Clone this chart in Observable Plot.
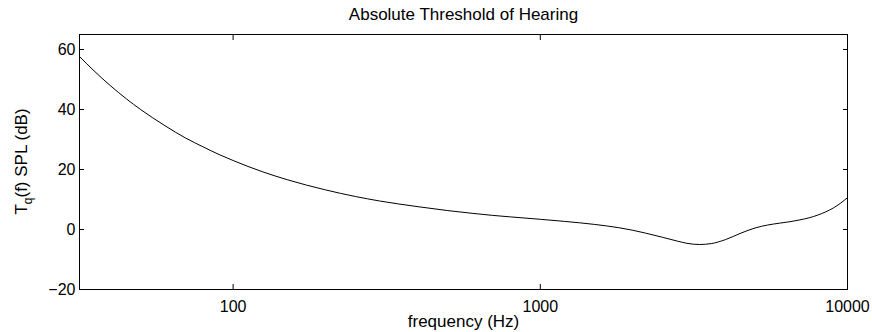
<!DOCTYPE html>
<html><head><meta charset="utf-8">
<script src="https://cdn.jsdelivr.net/npm/d3@7"></script>
<script src="https://cdn.jsdelivr.net/npm/@observablehq/plot@0.6"></script>
<style>
body{margin:0;background:#fff;}
#chart svg{font-family:"Liberation Sans", Arial, Helvetica, sans-serif;}
</style>
</head><body><div id="chart"></div>
<script>
// Values
const freqHz = [31.6, 35, 40, 45, 50, 60, 70, 80, 90, 100, 125, 150, 200, 250, 300, 400, 500, 600, 700, 800, 1000, 1200, 1500, 1800, 2000, 2200, 2500, 2800, 3000, 3300, 3600, 4000, 4500, 5000, 5500, 6000, 6500, 7000, 7500, 8000, 8500, 9000, 9500, 10000];
const thresholdDb = [57.7, 53.2, 47.8, 43.5, 40.0, 34.6, 30.5, 27.5, 25.0, 23.0, 19.2, 16.6, 13.2, 11.0, 9.5, 7.6, 6.3, 5.4, 4.7, 4.2, 3.4, 2.7, 1.7, 0.6, -0.25, -1.2, -2.6, -3.9, -4.6, -5.0, -4.7, -3.4, -1.2, 0.5, 1.5, 2.1, 2.6, 3.2, 3.9, 4.8, 5.9, 7.2, 8.8, 10.6];
const xTicks = [100, 1000, 10000];
const yTicks = [-20, 0, 20, 40, 60];
const titleText = "Absolute Threshold of Hearing";
const xLabelText = "frequency (Hz)";
const yLabelMain = "T";
const yLabelSub = "q";
const yLabelRest = "(f) SPL (dB)";

const data = freqHz.map((f, i) => ({f, t: thresholdDb[i]}));

const chart = Plot.plot({
  width: 872,
  height: 332,
  marginTop: 34,
  marginBottom: 43,
  marginLeft: 79,
  marginRight: 25,
  style: {fontSize: "16px", color: "black", background: "white", fontFamily: '"Liberation Sans", Arial, Helvetica, sans-serif'},
  x: {type: "log", domain: [31.62, 10000]},
  y: {domain: [-20, 65]},
  marks: [
    Plot.line(data, {x: "f", y: "t", stroke: "black", strokeWidth: 1, curve: "monotone-x"}),
    Plot.frame({stroke: "black", strokeWidth: 1}),
    Plot.axisX(xTicks, {anchor: "bottom", tickSize: -5, tickPadding: 16, tickFormat: d => String(d), label: null}),
    Plot.axisX(xTicks, {anchor: "top", tickSize: -5, tickFormat: () => "", label: null}),
    Plot.axisY(yTicks, {anchor: "left", tickSize: -5, tickPadding: 9, label: null}),
    Plot.axisY(yTicks, {anchor: "right", tickSize: -5, tickFormat: () => "", label: null}),
    Plot.text([titleText], {text: d => d, frameAnchor: "top", lineAnchor: "bottom", dy: -15, fontSize: 17}),
    Plot.text([xLabelText], {text: d => d, frameAnchor: "bottom", lineAnchor: "bottom", dy: 37, fontSize: 17})
  ]
});
document.getElementById("chart").appendChild(chart);

// y label with subscript
const svg = d3.select(chart.tagName.toLowerCase() === "svg" ? chart : chart.querySelector("svg"));
const cy = (34 + (332 - 43)) / 2;
const yl = svg.append("text")
  .attr("transform", `translate(27,${cy}) rotate(-90)`)
  .attr("text-anchor", "middle")
  .attr("font-size", 17)
  .attr("fill", "black");
yl.append("tspan").text(yLabelMain);
yl.append("tspan").attr("font-size", 12).attr("dy", 5).text(yLabelSub);
yl.append("tspan").attr("dy", -5).text(yLabelRest);
</script>
</body></html>
